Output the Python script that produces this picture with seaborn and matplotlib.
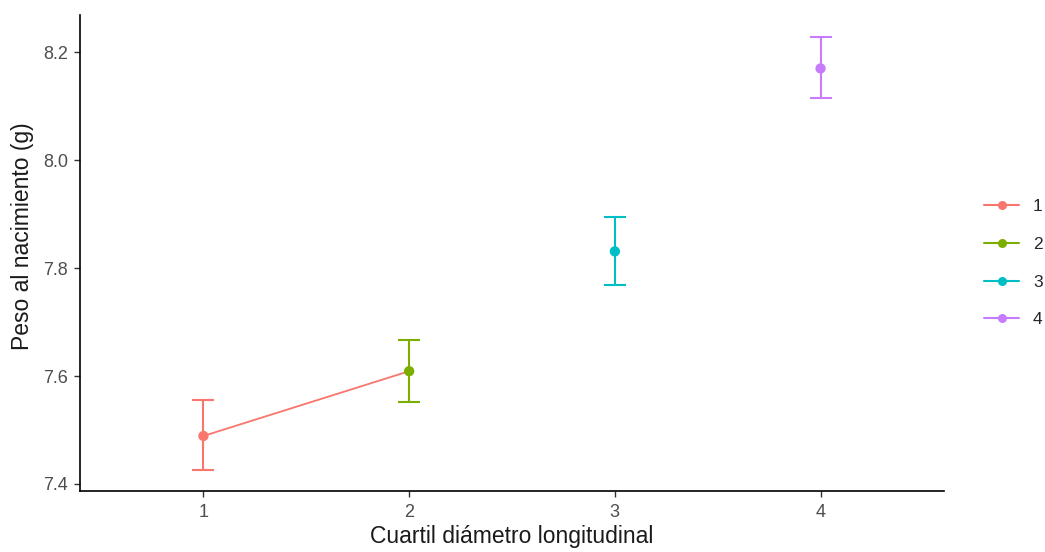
import matplotlib
matplotlib.use("Agg")
import matplotlib.pyplot as plt
from matplotlib.lines import Line2D
import seaborn as sns
import pandas as pd

# Mean birth weight by longitudinal-diameter quartile, with interval limits
cuartil = [1, 2, 3, 4]
media = [7.489, 7.609, 7.831, 8.170]
inferior = [7.426, 7.552, 7.769, 8.115]
superior = [7.556, 7.667, 7.894, 8.228]
etiquetas = ["1", "2", "3", "4"]
colores = ["#F8766D", "#7CAE00", "#00BFC4", "#C77CFF"]

df = pd.DataFrame({"cuartil": cuartil, "media": media,
                   "inferior": inferior, "superior": superior,
                   "grupo": etiquetas})

sns.set_theme(style="white")
plt.rcParams["font.family"] = ["Liberation Sans", "DejaVu Sans"]

fig = plt.figure(figsize=(10.45, 5.52), dpi=100)
ax = fig.add_axes([0.0766, 0.1105, 0.8267, 0.8623])

# connecting line between the first two quartiles
sns.lineplot(data=df.iloc[:2], x="cuartil", y="media", color=colores[0],
             linewidth=1.3, ax=ax, legend=False, zorder=2)

# interval bars
for i, row in df.iterrows():
    ax.errorbar(row["cuartil"], row["media"],
                yerr=[[row["media"] - row["inferior"]], [row["superior"] - row["media"]]],
                fmt="none", ecolor=colores[i], elinewidth=1.5, capsize=8,
                capthick=1.5, zorder=3)

sns.scatterplot(data=df, x="cuartil", y="media", hue="grupo",
                palette=colores, s=55, edgecolor="none", legend=False,
                ax=ax, zorder=4)

ax.set_xlim(0.4, 4.6)
ax.set_ylim(7.387, 8.269)
ax.set_xticks(cuartil)
ax.set_xticklabels(etiquetas)
ax.set_yticks([7.4, 7.6, 7.8, 8.0, 8.2])
ax.set_yticklabels(["7.4", "7.6", "7.8", "8.0", "8.2"])

ax.set_xlabel("Cuartil diámetro longitudinal", fontsize=16.5, color="#1A1A1A", labelpad=3)
ax.set_ylabel("Peso al nacimiento (g)", fontsize=16.5, color="#1A1A1A")
ax.yaxis.set_label_coords(-0.053, 0.536)
ax.tick_params(axis="both", which="major", direction="out", length=4.5, width=1,
               color="#333333", labelsize=13, labelcolor="#4D4D4D")
ax.tick_params(axis="x", pad=5)
ax.tick_params(axis="y", pad=4)
ax.tick_params(left=True, bottom=True)

for side in ["top", "right"]:
    ax.spines[side].set_visible(False)
for side in ["left", "bottom"]:
    ax.spines[side].set_color("black")
    ax.spines[side].set_linewidth(1.2)

handles = [Line2D([0], [0], color=c, linewidth=1.5, marker="o", markersize=6.5,
                  markeredgewidth=0) for c in colores]
fig.legend(handles, etiquetas, loc="center left", bbox_to_anchor=(0.927, 0.523),
           frameon=False, fontsize=12.5, handlelength=2.0, handletextpad=0.8,
           labelspacing=1.3)

fig.savefig("out.png", dpi=100)
